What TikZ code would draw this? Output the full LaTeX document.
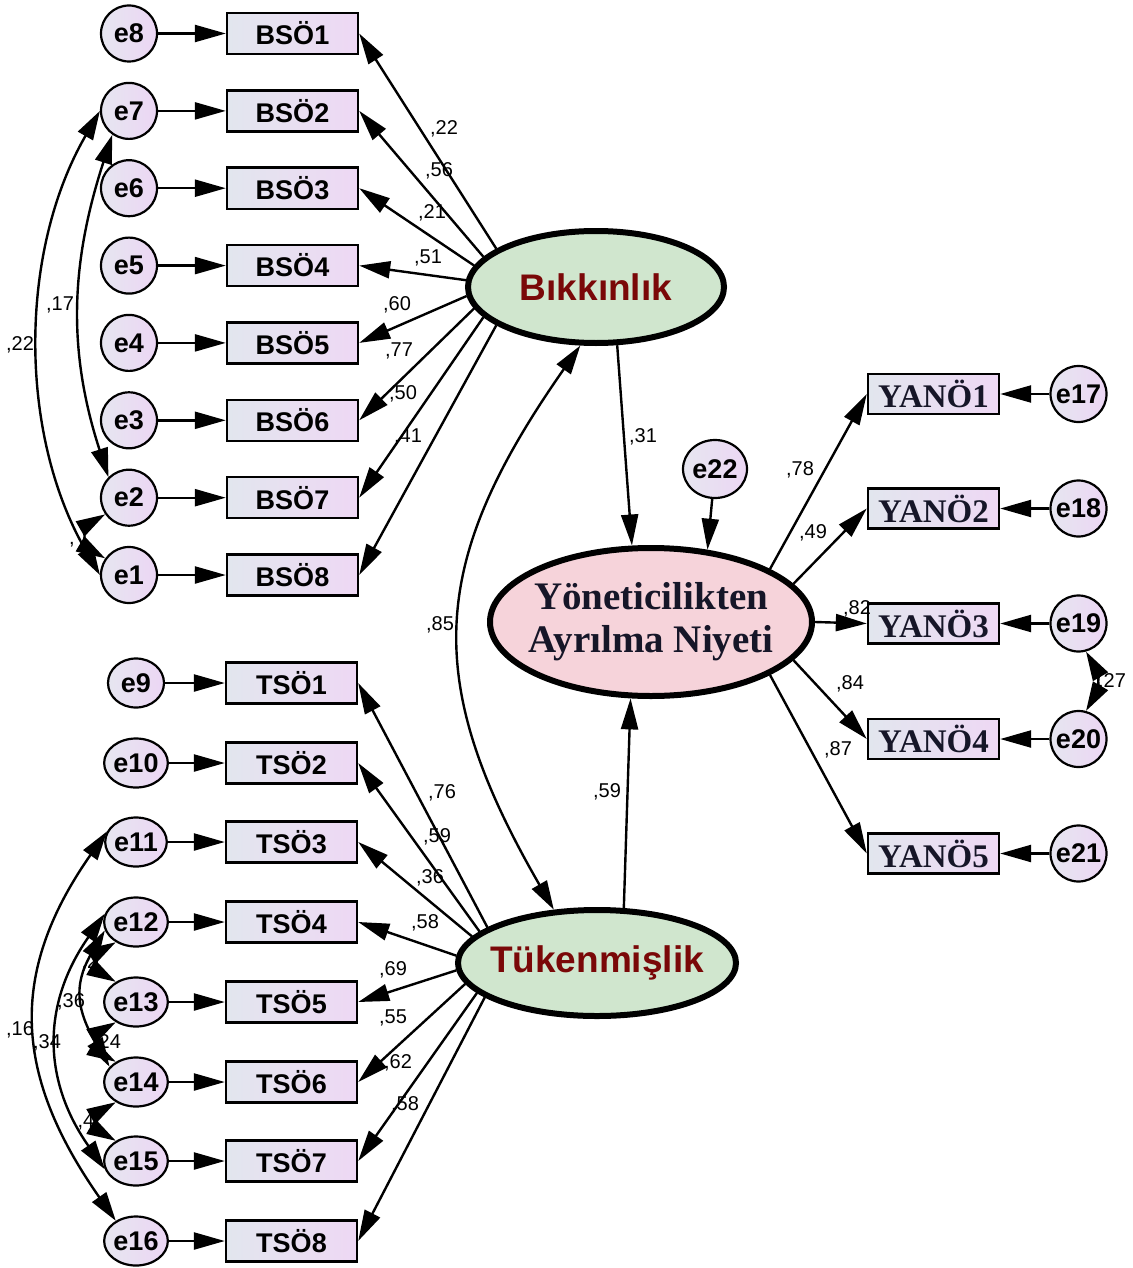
\documentclass[tikz,border=0pt]{standalone}
\usepackage{fontspec}
\setmainfont{Liberation Sans}
\newfontfamily\serifbf{Liberation Serif}
\usetikzlibrary{shapes.geometric,arrows.meta}

\definecolor{boxL}{RGB}{226,230,238}
\definecolor{boxR}{RGB}{238,216,244}
\definecolor{errL}{RGB}{230,230,240}
\definecolor{errR}{RGB}{236,214,244}
\definecolor{bikfill}{RGB}{208,230,206}
\definecolor{latred}{RGB}{122,8,8}
\definecolor{yanfill}{RGB}{246,211,218}
\definecolor{yantext}{RGB}{22,22,40}

\tikzset{
  ind/.style={draw, line width=2.4pt, minimum width=131pt, minimum height=41pt,
    inner sep=0pt, left color=boxL, right color=boxR,
    font=\fontsize{27}{30}\selectfont\bfseries},
  yind/.style={draw, line width=2.4pt, minimum width=131pt, minimum height=40pt,
    inner sep=0pt, left color=boxL, right color=boxR, text=yantext,
    font=\serifbf\fontsize{33}{36}\selectfont\bfseries},
  errc/.style={circle, draw, line width=2.2pt, minimum size=56pt, inner sep=0pt,
    left color=errL, right color=errR, font=\fontsize{27}{30}\selectfont\bfseries},
  erre/.style={ellipse, draw, line width=2.2pt, minimum width=56pt, minimum height=49pt,
    inner sep=0pt, left color=errL, right color=errR,
    font=\fontsize{27}{30}\selectfont\bfseries},
  latent/.style={ellipse, draw, line width=6pt, inner sep=0pt},
  lbl/.style={inner sep=0pt, font=\fontsize{20}{22}\selectfont},
  reg/.style={line width=2.4pt, -{Triangle[length=31pt,width=17pt]}},
  cov/.style={line width=2.4pt,
    {Triangle[length=29pt,width=17pt]}-{Triangle[length=29pt,width=17pt]}},
}

\begin{document}
\begin{tikzpicture}[x=1pt,y=-1pt]
\useasboundingbox (0,0) rectangle (1132,1268);

% ---- Bikkinlik indicators and their errors
\foreach \i/\yy in {1/33.5,2/110.9,3/188.2,4/265.6,5/342.9,6/420.3,7/497.7,8/575}{
  \node[ind] (bso\i) at (292.5,\yy) {BSÖ\i};
}
\foreach \e/\yy in {8/33.5,7/110.9,6/188.2,5/265.6,4/342.9,3/420.3,2/497.7,1/575}{
  \node[errc] (e\e) at (129,\yy) {e\e};
}

% ---- Tukenmislik indicators and their errors
\foreach \i/\yy in {1/683,2/763,3/842,4/922,5/1002,6/1082,7/1161,8/1241}{
  \node[ind] (tso\i) at (291.5,\yy) {TSÖ\i};
}
\foreach \e/\yy in {9/683,10/763,11/842,12/922,13/1002,14/1082,15/1161,16/1241}{
  \node[erre] (e\e) at (136,\yy) {e\e};
}

% ---- outcome indicators and their errors
\foreach \i/\yy in {1/394,2/508.5,3/623.5,4/739,5/853.5}{
  \node[yind] (yan\i) at (933.5,\yy) {YANÖ\i};
}
\foreach \e/\yy in {17/394,18/508.5,19/623.5,20/739,21/853.5}{
  \node[errc] (e\e) at (1078.5,\yy) {e\e};
}

% ---- latent variables (text boxed at zero width so the ellipse keeps its size)
\node[latent, fill=bikfill, minimum width=256pt, minimum height=112pt,
      text=latred, font=\fontsize{37}{40}\selectfont\bfseries] (bik) at (596,287)
      {\makebox[0pt]{Bıkkınlık}};
\node[latent, fill=bikfill, minimum width=278pt, minimum height=106pt,
      text=latred, font=\fontsize{37}{40}\selectfont\bfseries] (tuk) at (597,963)
      {\makebox[0pt]{Tükenmişlik}};
\node[latent, fill=yanfill, minimum width=322pt, minimum height=148pt, text=yantext,
      font=\serifbf\fontsize{39}{43}\selectfont\bfseries] (yan) at (651,622)
      {\makebox[0pt]{\begin{tabular}{@{}c@{}}Yöneticilikten\\Ayrılma Niyeti\end{tabular}}};
\node[erre, minimum width=64pt, minimum height=58pt] (e22) at (715,469) {e22};

% ---- coefficient labels
\node[lbl] (lb1) at (444,129) {,22};
\node[lbl] (lb2) at (439,171) {,56};
\node[lbl] (lb3) at (432,213) {,21};
\node[lbl] (lb4) at (428,258) {,51};
\node[lbl] (lb5) at (397,305) {,60};
\node[lbl] (lb6) at (399,351) {,77};
\node[lbl] (lb7) at (403,394) {,50};
\node[lbl] (lb8) at (408,437) {,41};
\node[lbl] (lt1) at (442,793) {,76};
\node[lbl] (lt2) at (437,837) {,59};
\node[lbl] (lt3) at (430,878) {,36};
\node[lbl] (lt4) at (425,923) {,58};
\node[lbl] (lt5) at (393,970) {,69};
\node[lbl] (lt6) at (393,1018) {,55};
\node[lbl] (lt7) at (398,1063) {,62};
\node[lbl] (lt8) at (405,1105) {,58};
\node[lbl] (ly1) at (800,470) {,78};
\node[lbl] (ly2) at (813,533) {,49};
\node[lbl] (ly3) at (857,609) {,82};
\node[lbl] (ly4) at (850,684) {,84};
\node[lbl] (ly5) at (838,750) {,87};
\node[lbl] (lbk) at (643,437) {,31};
\node[lbl] (ltk) at (607,792) {,59};
\node[lbl] (lbt) at (440,625) {,85};
\node[lbl] (c71) at (20,345) {,22};
\node[lbl] (c72) at (60,305) {,17};
\node[lbl] (c21) at (72,545) {,};
\node[lbl] (c1116) at (20,1030) {,16};
\node[lbl] (c1215) at (47,1043) {,34};
\node[lbl] (c1214) at (71,1002) {,36};
\node[lbl] (c1213) at (90,963) {,2};
\node[lbl] (c1314) at (107,1043) {,24};
\node[lbl] (c1415) at (86,1122) {,4};
\node[lbl] (c1920) at (1112,682) {,27};

% ---- error terms to indicators
\foreach \e/\i in {8/1,7/2,6/3,5/4,4/5,3/6,2/7,1/8}{
  \draw[reg] (e\e) -- (bso\i.west);
}
\foreach \e/\i in {9/1,10/2,11/3,12/4,13/5,14/6,15/7,16/8}{
  \draw[reg] (e\e) -- (tso\i.west);
}
\foreach \e/\i in {17/1,18/2,19/3,20/4,21/5}{
  \draw[reg] (e\e) -- (yan\i.east);
}

% ---- loadings
\foreach \a/\i in {159.8/1,165.5/2,170.8/3,177.8/4,184.9/5,190.6/6,195.3/7,201.2/8}{
  \draw[reg] (bik.\a) -- (bso\i.east);
}
\foreach \a/\i in {162.8/1,165.6/2,168.6/3,177.1/4,183.3/5,189/6,194.3/7,197.8/8}{
  \draw[reg] (tuk.\a) -- (tso\i.east);
}
\foreach \a/\i in {24.8/1,15.2/2,0/3,-15.5/4,-24.8/5}{
  \draw[reg] (yan.\a) -- (yan\i.west);
}

% ---- structural paths
\draw[reg] (bik.290) -- (yan.104.4);
\draw[reg] (tuk.64.7) -- (yan.255.8);
\draw[reg] (e22) -- (yan.52);

% ---- covariances
\draw[cov] (bik.255) to[out=235,in=120,looseness=1.2] (tuk.129);
\draw[cov] (e7.180) to[out=240,in=120,looseness=0.9] (e1.180);
\draw[cov] (e7.235) to[out=252,in=108] (e2.135);
\draw[cov] (e2.215) to[out=210,in=150,looseness=1.3] (e1.145);
\draw[cov] (e11.160) to[out=235,in=125,looseness=1.15] (e16.135);
\draw[cov] (e12.165) to[out=235,in=125,looseness=1.1] (e15.195);
\draw[cov] (e12.195) to[out=240,in=120,looseness=1.2] (e14.150);
\draw[cov] (e12.225) to[out=210,in=150,looseness=1.3] (e13.135);
\draw[cov] (e13.225) to[out=210,in=150,looseness=1.3] (e14.135);
\draw[cov] (e14.225) to[out=210,in=150,looseness=1.3] (e15.135);
\draw[cov] (e19.285) to[out=-60,in=60] (e20.75);
\end{tikzpicture}
\end{document}
